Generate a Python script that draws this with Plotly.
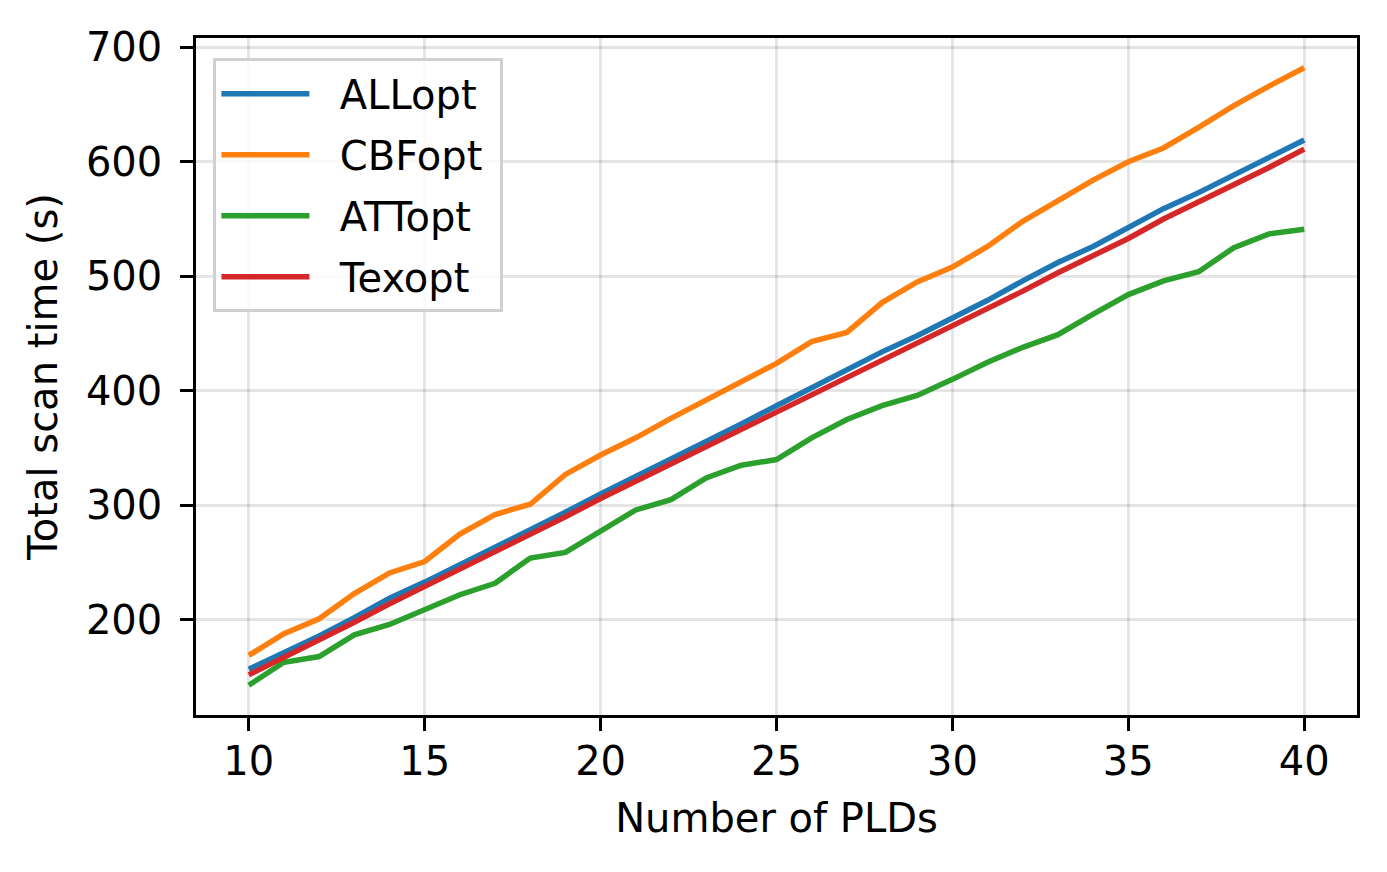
import plotly.graph_objects as go

# Number of PLDs (x axis)
n_plds = list(range(10, 41))

# Total scan time (s) per method
allopt = [157, 171, 186, 202, 219, 233, 248, 263, 278, 294,
          310, 325, 341, 356, 371, 387, 403, 418, 434, 448,
          463, 479, 496, 512, 526, 543, 559, 573, 588, 604, 619]
cbfopt = [169, 188, 201, 223, 241, 251, 275, 292, 301, 327,
          344, 359, 376, 392, 409, 424, 443, 451, 477, 495,
          508, 526, 548, 566, 584, 600, 612, 630, 649, 666, 682]
attopt = [143, 163, 168, 187, 196, 209, 222, 232, 254, 259,
          277, 296, 305, 324, 335, 340, 359, 375, 387, 396,
          410, 425, 438, 449, 467, 484, 496, 504, 525, 537, 541]
texopt = [152, 167, 183, 198, 214, 229, 244, 259, 274, 290,
          306, 321, 336, 351, 366, 382, 397, 412, 427, 442,
          456, 471, 487, 503, 518, 533, 550, 565, 579, 595, 611]

series = [
    ("ALLopt", allopt, "#1f77b4"),
    ("CBFopt", cbfopt, "#ff7f0e"),
    ("ATTopt", attopt, "#2ca02c"),
    ("Texopt", texopt, "#d62728"),
]

FONT = "DejaVu Sans"
FS = 40
NB = "\u00a0"  # padding around legend labels, like matplotlib's handle gap

fig = go.Figure()
for name, vals, color in series:
    fig.add_trace(go.Scatter(
        x=n_plds, y=vals, mode="lines", name=NB * 2 + name + NB,
        legendgroup=name,
        line=dict(color=color, width=5.5),
    ))

axis_common = dict(
    showline=True, linecolor="black", linewidth=2.5, mirror=True,
    ticks="outside", ticklen=13, tickwidth=2.5, tickcolor="black",
    showgrid=True, gridcolor="rgba(0,0,0,0.1)", gridwidth=2.5,
    zeroline=False,
    tickfont=dict(family=FONT, size=FS, color="black"),
)

fig.update_layout(
    width=1387, height=872,
    margin=dict(l=188, r=38, t=30, b=165),
    paper_bgcolor="white", plot_bgcolor="white",
    font=dict(family=FONT, size=FS, color="black"),
    xaxis=dict(
        range=[8.5, 41.5], tickvals=[10, 15, 20, 25, 30, 35, 40],
        ticklabelstandoff=-4,
        title=dict(text="Number of PLDs", font=dict(family=FONT, size=FS), standoff=22),
        **axis_common,
    ),
    yaxis=dict(
        range=[117, 708], tickvals=[200, 300, 400, 500, 600, 700],
        ticklabelstandoff=10,
        title=dict(text="Total scan time (s)", font=dict(family=FONT, size=FS), standoff=16),
        **axis_common,
    ),
    legend=dict(
        x=0.015, y=0.97, xanchor="left", yanchor="top",
        bgcolor="rgba(255,255,255,0.8)", bordercolor="#d0d0d0", borderwidth=3,
        font=dict(family=FONT, size=FS),
        itemwidth=88, tracegroupgap=6,
    ),
    showlegend=True,
)

fig.write_html("out.html")
